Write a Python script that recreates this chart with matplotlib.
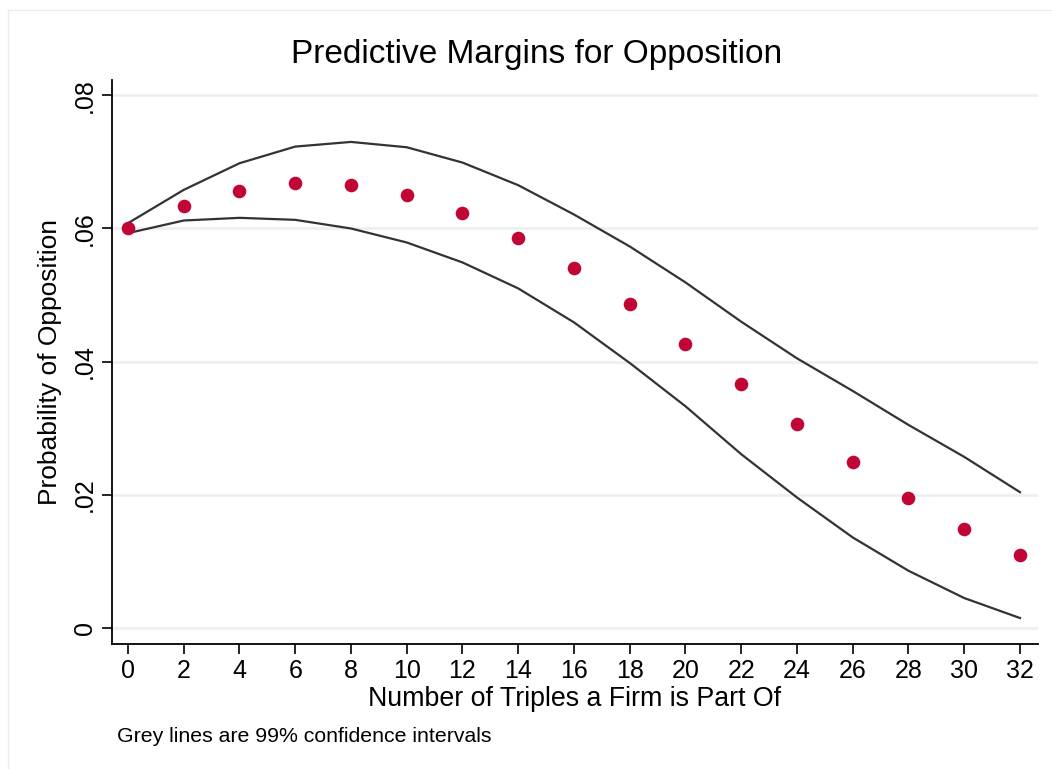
import matplotlib
matplotlib.use("Agg")
import matplotlib.pyplot as plt
from matplotlib.patches import Rectangle

plt.rcParams['font.family'] = ['Liberation Sans', 'DejaVu Sans']

# number of triples a firm is part of
triples = [0, 2, 4, 6, 8, 10, 12, 14, 16, 18, 20, 22, 24, 26, 28, 30, 32]

# predicted probability of opposition
margin = [0.0600, 0.0634, 0.0657, 0.0668, 0.0665, 0.0650, 0.0623, 0.0586, 0.0540,
          0.0486, 0.0426, 0.0366, 0.0306, 0.0249, 0.0195, 0.0149, 0.0109]

# 99% confidence bounds
upper = [0.0608, 0.0658, 0.0698, 0.0723, 0.0730, 0.0722, 0.0699, 0.0665, 0.0621,
         0.0573, 0.0519, 0.0460, 0.0405, 0.0356, 0.0305, 0.0257, 0.0204]
lower = [0.0593, 0.0612, 0.0616, 0.0613, 0.0600, 0.0579, 0.0549, 0.0510, 0.0459,
         0.0398, 0.0333, 0.0261, 0.0196, 0.0136, 0.0086, 0.0045, 0.0015]

yticks = [0, 0.02, 0.04, 0.06, 0.08]
ytick_labels = ['0', '.02', '.04', '.06', '.08']

W, H = 1052, 769
fig = plt.figure(figsize=(W / 100, H / 100), dpi=100)
fig.patch.set_facecolor('white')

# faint graph-region outline (only top and left show in the crop)
fig.patches.append(Rectangle((7.5 / W, -0.2), 1.2, 1.2 - 10 / H, transform=fig.transFigure,
                             fill=False, edgecolor='#ececec', linewidth=1))

left, right, top, bottom = 112, 1038, 80, 644
ax = fig.add_axes([left / W, 1 - bottom / H, (right - left) / W, (bottom - top) / H])

for yv in yticks:
    ax.axhline(yv, color='#e8f0f2', linewidth=1.8, zorder=0)

ax.plot(triples, upper, color='#333333', linewidth=1.6, zorder=2)
ax.plot(triples, lower, color='#333333', linewidth=1.6, zorder=2)
ax.plot(triples, margin, 'o', color='#c10534', markersize=9.8, markeredgewidth=0, zorder=3)

ax.set_xlim(-0.574, 32.646)
ax.set_ylim(-0.0024, 0.0823)
ax.set_xticks(triples)
ax.set_xticklabels([str(t) for t in triples], fontsize=18)
ax.set_yticks(yticks)
ax.set_yticklabels(ytick_labels, fontsize=18, rotation=90, va='center')

for s in ['top', 'right']:
    ax.spines[s].set_visible(False)
for s in ['left', 'bottom']:
    ax.spines[s].set_linewidth(1.3)
ax.tick_params(axis='both', direction='out', length=7, width=1.2, pad=4)

ax.set_xlabel('Number of Triples a Firm is Part Of', fontsize=19.3, labelpad=2)
ax.set_ylabel('Probability of Opposition', fontsize=19, labelpad=8)
fig.text(537 / W, 1 - 55 / H, 'Predictive Margins for Opposition', fontsize=24,
         ha='center', va='center')
fig.text(117 / W, 1 - 737 / H, 'Grey lines are 99% confidence intervals', fontsize=15.3,
         ha='left', va='center')

fig.savefig('out.png', dpi=100)
